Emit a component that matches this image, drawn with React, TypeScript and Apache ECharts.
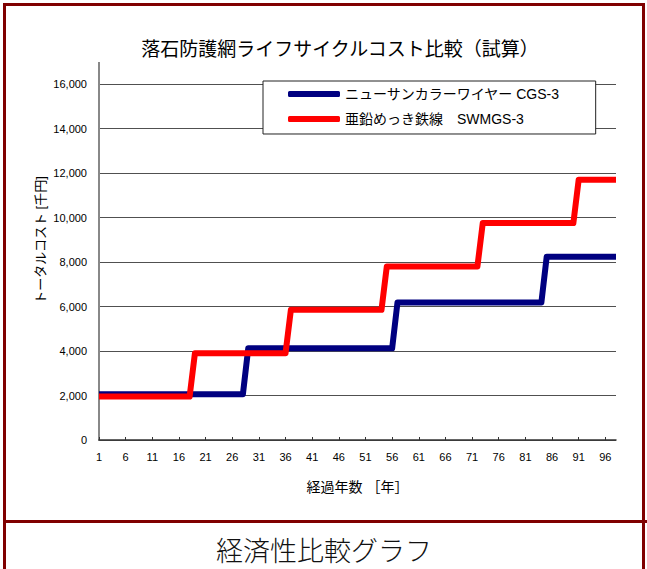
import React, { useEffect, useRef } from "react";
import * as echarts from "echarts";

const chartTitle = "落石防護網ライフサイクルコスト比較（試算）";
const caption = "経済性比較グラフ";
const xAxisName = "経過年数 ［年］";
const yAxisName = "トータルコスト [千円]";
const seriesNames = ["ニューサンカラーワイヤー CGS-3", "亜鉛めっき鉄線　SWMGS-3"];

// elapsed years 1..98
const years: string[] = Array.from({ length: 98 }, (_, i) => String(i + 1));

// ニューサンカラーワイヤー CGS-3 (千円)
const cgsValues = [
  2060, 2060, 2060, 2060, 2060, 2060, 2060, 2060, 2060, 2060, 2060, 2060, 2060, 2060,
  2060, 2060, 2060, 2060, 2060, 2060, 2060, 2060, 2060, 2060, 2060, 2060, 2060, 2060,
  4120, 4120, 4120, 4120, 4120, 4120, 4120, 4120, 4120, 4120, 4120, 4120, 4120, 4120,
  4120, 4120, 4120, 4120, 4120, 4120, 4120, 4120, 4120, 4120, 4120, 4120, 4120, 4120,
  6180, 6180, 6180, 6180, 6180, 6180, 6180, 6180, 6180, 6180, 6180, 6180, 6180, 6180,
  6180, 6180, 6180, 6180, 6180, 6180, 6180, 6180, 6180, 6180, 6180, 6180, 6180, 6180,
  8240, 8240, 8240, 8240, 8240, 8240, 8240, 8240, 8240, 8240, 8240, 8240, 8240, 8240,
];

// 亜鉛めっき鉄線 SWMGS-3 (千円)
const swmgsValues = [
  1950, 1950, 1950, 1950, 1950, 1950, 1950, 1950, 1950, 1950, 1950, 1950, 1950, 1950, 1950, 1950, 1950, 1950,
  3900, 3900, 3900, 3900, 3900, 3900, 3900, 3900, 3900, 3900, 3900, 3900, 3900, 3900, 3900, 3900, 3900, 3900,
  5850, 5850, 5850, 5850, 5850, 5850, 5850, 5850, 5850, 5850, 5850, 5850, 5850, 5850, 5850, 5850, 5850, 5850,
  7800, 7800, 7800, 7800, 7800, 7800, 7800, 7800, 7800, 7800, 7800, 7800, 7800, 7800, 7800, 7800, 7800, 7800,
  9750, 9750, 9750, 9750, 9750, 9750, 9750, 9750, 9750, 9750, 9750, 9750, 9750, 9750, 9750, 9750, 9750, 9750,
  11700, 11700, 11700, 11700, 11700, 11700, 11700, 11700,
];

const yMin = 0;
const yMax = 16000;
const yInterval = 2000;

const FONT = "'Liberation Sans', 'Noto Sans CJK JP', sans-serif";
const FRAME = "#800000";

export default function App() {
  const ref = useRef<HTMLDivElement>(null);

  useEffect(() => {
    if (!ref.current) return;
    const chart = echarts.init(ref.current, undefined, { renderer: "svg" });
    const gridLeft = 99;
    const gridTop = 84;
    const gridRight = 31;
    const gridBottom = 129;
    chart.setOption({
      animation: false,
      backgroundColor: "#ffffff",
      textStyle: { fontFamily: FONT },
      grid: { left: gridLeft, top: gridTop, right: gridRight, bottom: gridBottom, containLabel: false },
      title: {
        text: chartTitle,
        left: 335,
        top: 35,
        textAlign: "center",
        textStyle: { fontFamily: FONT, fontSize: 19, fontWeight: "normal", color: "#000" },
      },
      legend: {
        orient: "vertical",
        left: 263,
        top: 81,
        padding: [6, 36, 8, 25],
        itemGap: 11,
        itemWidth: 52,
        itemHeight: 6,
        icon: "roundRect",
        backgroundColor: "#ffffff",
        borderColor: "#222",
        borderWidth: 1,
        textStyle: { fontFamily: FONT, fontSize: 14, color: "#000" },
        data: seriesNames,
      },
      xAxis: {
        type: "category",
        data: years,
        boundaryGap: false,
        name: xAxisName,
        nameLocation: "middle",
        nameGap: 40,
        nameTextStyle: { fontFamily: FONT, fontSize: 14, color: "#000" },
        axisLine: { lineStyle: { color: "#333", width: 1.5 } },
        axisTick: { show: true, inside: true, length: 3, interval: 4, lineStyle: { color: "#333" } },
        axisLabel: { interval: 4, margin: 11, fontSize: 11, color: "#000", fontFamily: FONT },
        splitLine: { show: false },
      },
      yAxis: {
        type: "value",
        min: yMin,
        max: yMax,
        interval: yInterval,
        axisLine: { show: true, lineStyle: { color: "#888", width: 2 } },
        axisTick: { show: false },
        axisLabel: {
          margin: 12,
          fontSize: 11,
          color: "#000",
          fontFamily: FONT,
          formatter: (v: number) => v.toLocaleString("en-US"),
        },
        splitLine: { show: true, lineStyle: { color: "#505050", width: 1 } },
      },
      series: [
        {
          name: seriesNames[0],
          type: "line",
          data: cgsValues,
          symbol: "none",
          z: 2,
          lineStyle: { color: "#000080", width: 6, join: "round", cap: "butt" },
          itemStyle: { color: "#000080" },
        },
        {
          name: seriesNames[1],
          type: "line",
          data: swmgsValues,
          symbol: "none",
          z: 3,
          lineStyle: { color: "#ff0000", width: 6, join: "round", cap: "butt" },
          itemStyle: { color: "#ff0000" },
        },
      ],
      graphic: [
        // y axis line extension above the top gridline
        { type: "line", shape: { x1: gridLeft, y1: 62, x2: gridLeft, y2: gridTop }, style: { stroke: "#888", lineWidth: 2 }, z: 1 },
        {
          type: "text",
          x: 40,
          y: 240,
          rotation: Math.PI / 2,
          style: { text: yAxisName, fontFamily: FONT, fontSize: 13, fill: "#000", align: "center", verticalAlign: "middle" },
        },
        // frame
        { type: "rect", shape: { x: 4.5, y: 4.5, width: 639, height: 600 }, style: { fill: "none", stroke: FRAME, lineWidth: 3 }, z: 10 },
        { type: "line", shape: { x1: 4, y1: 521.5, x2: 647, y2: 521.5 }, style: { stroke: FRAME, lineWidth: 3 }, z: 10 },
        {
          type: "text",
          x: 324,
          y: 549,
          style: { text: caption, fontFamily: "'Noto Sans CJK JP', serif", fontSize: 27, lineHeight: 28, fontWeight: 300, fill: "#111", align: "center", verticalAlign: "middle" },
        },
      ],
    });
    return () => chart.dispose();
  }, []);

  return (
    <div style={{ position: "fixed", left: 0, top: 0, width: 647, height: 569, background: "#fff" }}>
      <div ref={ref} style={{ width: 647, height: 569 }} />
    </div>
  );
}
